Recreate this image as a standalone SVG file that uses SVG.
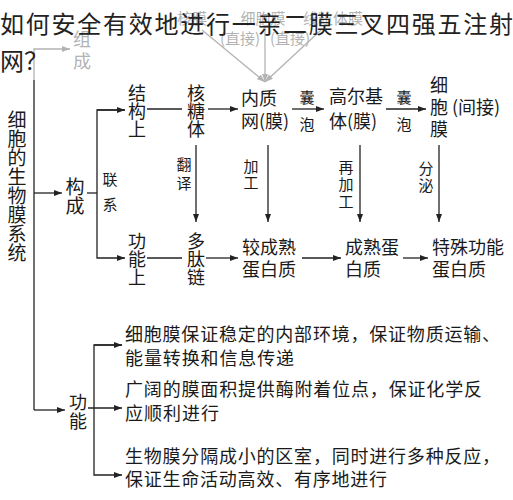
<svg xmlns="http://www.w3.org/2000/svg" width="513" height="500" viewBox="0 0 513 500">
<style>
.t{font-family:"Noto Sans CJK SC","Noto Sans",sans-serif;font-size:18px;fill:#1a1a1a;dominant-baseline:central}
.m{text-anchor:middle}
.s{font-size:15px}
.g{fill:#b3b3b3}
.ln{stroke:#222;stroke-width:1.3;fill:none}
.gl{stroke:#b3b3b3;stroke-width:1.3;fill:none}
.title{font-family:"Noto Sans CJK SC","Noto Sans",sans-serif;font-size:24px;fill:#222;dominant-baseline:central}
</style>
<defs>
<marker id="a" viewBox="0 0 8 6" refX="8" refY="3" markerWidth="8" markerHeight="6" markerUnits="userSpaceOnUse" orient="auto"><path d="M0,0L8,3L0,6z" fill="#222"/></marker>
<marker id="ag" viewBox="0 0 8 6" refX="8" refY="3" markerWidth="8" markerHeight="6" markerUnits="userSpaceOnUse" orient="auto"><path d="M0,0L8,3L0,6z" fill="#b3b3b3"/></marker>
</defs>
<rect width="513" height="500" fill="#fff"/>

<g id="faded">
<text class="t s g m" x="192" y="17">核膜</text>
<text class="t s g m" x="263" y="17">细胞膜</text>
<text class="t s g m" x="333" y="17">线粒体膜</text>
<text class="t s g m" x="240" y="37">(直接)</text>
<text class="t s g m" x="290" y="37">(直接)</text>
<text class="t g m" x="82" y="38">组</text>
<text class="t g m" x="82" y="60">成</text>
</g>

<g id="connectors">
<path class="gl" d="M202,30L265,82" marker-end="url(#ag)"/>
<path class="gl" d="M265,26L265,82" marker-end="url(#ag)"/>
<path class="gl" d="M321,30L265,82" marker-end="url(#ag)"/>
<path class="gl" d="M34,80V49H70" marker-end="url(#ag)"/>
<path class="ln" d="M34,80V410"/>
<path class="ln" d="M34,193H62" marker-end="url(#a)"/>
<path class="ln" d="M87,193H97"/>
<path class="ln" d="M125,110H97V258H125" marker-end="url(#a)"/>
<path class="ln" d="M97,110H125" marker-end="url(#a)"/>
<path class="ln" d="M147,109H182"/>
<path class="ln" d="M208,109H238" marker-end="url(#a)"/>
<path class="ln" d="M292,109H324" marker-end="url(#a)"/>
<path class="ln" d="M386,109H426" marker-end="url(#a)"/>
<path class="ln" d="M196,145V222" marker-end="url(#a)"/>
<path class="ln" d="M268,145V222" marker-end="url(#a)"/>
<path class="ln" d="M360,145V222" marker-end="url(#a)"/>
<path class="ln" d="M439,145V222" marker-end="url(#a)"/>
<path class="ln" d="M147,258H182"/>
<path class="ln" d="M206,258H238" marker-end="url(#a)"/>
<path class="ln" d="M302,258H341" marker-end="url(#a)"/>
<path class="ln" d="M403,258H428" marker-end="url(#a)"/>
<path class="ln" d="M34,410H65" marker-end="url(#a)"/>
<path class="ln" d="M88,408H122" marker-end="url(#a)"/>
<path class="ln" d="M122,345H94V475H122" marker-end="url(#a)"/>
<path class="ln" d="M94,345H122" marker-end="url(#a)"/>
</g>

<g id="n-system">
<text class="t m" x="17" y="118" style="font-size:19px">细</text>
<text class="t m" x="17" y="137" style="font-size:19px">胞</text>
<text class="t m" x="17" y="156" style="font-size:19px">的</text>
<text class="t m" x="17" y="175" style="font-size:19px">生</text>
<text class="t m" x="17" y="194" style="font-size:19px">物</text>
<text class="t m" x="17" y="213" style="font-size:19px">膜</text>
<text class="t m" x="17" y="232" style="font-size:19px">系</text>
<text class="t m" x="17" y="251" style="font-size:19px">统</text>
</g>
<g id="n-goucheng">
<text class="t m" x="75" y="185" style="font-size:19px">构</text>
<text class="t m" x="75" y="204" style="font-size:19px">成</text>
</g>
<g id="n-lianxi">
<text class="t s m" x="110" y="178">联</text>
<text class="t s m" x="110" y="203">系</text>
</g>
<g id="n-jiegou">
<text class="t m" x="137" y="92">结</text>
<text class="t m" x="137" y="110">构</text>
<text class="t m" x="137" y="128">上</text>
</g>
<g id="n-ribosome">
<text class="t m" x="196" y="92">核</text>
<text class="t m" x="196" y="110">糖</text>
<text class="t m" x="196" y="128">体</text>
</g>
<g id="n-er">
<text class="t" x="241" y="97">内质</text>
<text class="t" x="241" y="120">网(膜)</text>
</g>
<g id="l-vesicle1">
<text class="t s m" x="307" y="96">囊</text>
<text class="t s m" x="307" y="123">泡</text>
</g>
<g id="n-golgi">
<text class="t" x="329" y="95">高尔基</text>
<text class="t" x="329" y="120">体(膜)</text>
</g>
<g id="l-vesicle2">
<text class="t s m" x="404" y="96">囊</text>
<text class="t s m" x="404" y="123">泡</text>
</g>
<g id="n-pm">
<text class="t m" x="439" y="84">细</text>
<text class="t m" x="439" y="106">胞</text>
<text class="t m" x="439" y="128">膜</text>
<text class="t" x="452" y="106">(间接)</text>
</g>
<g id="l-edges">
<text class="t s m" x="184" y="163">翻</text>
<text class="t s m" x="184" y="182">译</text>
<text class="t s m" x="251" y="165">加</text>
<text class="t s m" x="251" y="181">工</text>
<text class="t s m" x="346" y="166">再</text>
<text class="t s m" x="346" y="183">加</text>
<text class="t s m" x="346" y="200">工</text>
<text class="t s m" x="426" y="167">分</text>
<text class="t s m" x="426" y="184">泌</text>
</g>
<g id="n-gongneng-shang">
<text class="t m" x="137" y="240">功</text>
<text class="t m" x="137" y="258">能</text>
<text class="t m" x="137" y="276">上</text>
</g>
<g id="n-peptide">
<text class="t m" x="196" y="240">多</text>
<text class="t m" x="196" y="258">肽</text>
<text class="t m" x="196" y="276">链</text>
</g>
<g id="n-p1">
<text class="t" x="242" y="246">较成熟</text>
<text class="t" x="242" y="268">蛋白质</text>
</g>
<g id="n-p2">
<text class="t" x="345" y="246">成熟蛋</text>
<text class="t" x="345" y="268">白质</text>
</g>
<g id="n-p3">
<text class="t" x="432" y="246">特殊功能</text>
<text class="t" x="432" y="268">蛋白质</text>
</g>
<g id="n-gongneng">
<text class="t m" x="78" y="401">功</text>
<text class="t m" x="78" y="420">能</text>
</g>
<g id="n-f1">
<text class="t" x="125" y="333" textLength="375">细胞膜保证稳定的内部环境，保证物质运输、</text>
<text class="t" x="125" y="357" textLength="169">能量转换和信息传递</text>
</g>
<g id="n-f2">
<text class="t" x="125" y="388" textLength="357">广阔的膜面积提供酶附着位点，保证化学反</text>
<text class="t" x="125" y="412" textLength="94">应顺利进行</text>
</g>
<g id="n-f3">
<text class="t" x="125" y="455" textLength="375">生物膜分隔成小的区室，同时进行多种反应，</text>
<text class="t" x="125" y="478" textLength="262">保证生命活动高效、有序地进行</text>
</g>

<g id="title">
<text class="title" x="0" y="22" textLength="513">如何安全有效地进行一亲二膜三叉四强五注射</text>
<text class="title" x="0" y="59">网？</text>
</g>
</svg>
